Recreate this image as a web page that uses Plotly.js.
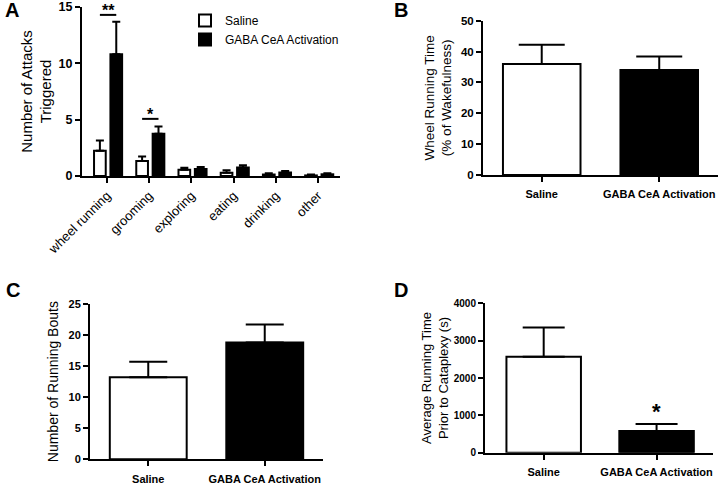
<!DOCTYPE html>
<html><head><meta charset="utf-8">
<script src="https://cdn.plot.ly/plotly-3.0.1.min.js"></script>
<style>html,body{margin:0;padding:0;background:#fff}</style>
</head><body><div id="chart" style="width:720px;height:486px"></div>
<script>
// ---- data ----
const behaviors = ['wheel running', 'grooming', 'exploring', 'eating', 'drinking', 'other'];
const attacksSaline = [2.25, 1.32, 0.55, 0.28, 0.13, 0.05];
const attacksSalineSem = [0.9, 0.4, 0.18, 0.22, 0.12, 0.08];
const attacksGaba = [10.8, 3.75, 0.62, 0.75, 0.32, 0.15];
const attacksGabaSem = [2.9, 0.65, 0.18, 0.2, 0.12, 0.1];
const groups = ['Saline', 'GABA CeA Activation'];
const wheelTime = [36, 34];
const wheelTimeSem = [6.2, 4.4];
const runningBouts = [13.2, 18.8];
const runningBoutsSem = [2.5, 2.9];
const runTimePrior = [2570, 580];
const runTimePriorSem = [780, 190];
const sigA = [{cat: 0, label: '**', y: 14.3}, {cat: 1, label: '*', y: 5.07}];
const sigD = [{cat: 1, label: '*'}];

// ---- style ----
const FONT = 'Liberation Sans, Arial, sans-serif';
const barColors = ['#ffffff', '#000000'];
const salOffset = -0.305, gabaOffset = 0.083, barW = 0.277;

function errBar(arr, w) {
  return {type: 'data', symmetric: false, array: arr, arrayminus: arr.map(() => 0),
          color: '#000', thickness: 2, width: w};
}

const traces = [
  {type: 'bar', name: 'Saline', x: behaviors, y: attacksSaline, xaxis: 'x', yaxis: 'y',
   offset: salOffset, width: barW,
   marker: {color: barColors[0], line: {color: '#000', width: 2}},
   error_y: errBar(attacksSalineSem, 4)},
  {type: 'bar', name: 'GABA CeA Activation', x: behaviors, y: attacksGaba, xaxis: 'x', yaxis: 'y',
   offset: gabaOffset, width: barW,
   marker: {color: barColors[1], line: {color: '#000', width: 2}},
   error_y: errBar(attacksGabaSem, 4)},
  {type: 'bar', x: groups, y: wheelTime, xaxis: 'x2', yaxis: 'y2', showlegend: false,
   marker: {color: barColors, line: {color: '#000', width: 2}},
   error_y: errBar(wheelTimeSem, 23)},
  {type: 'bar', x: groups, y: runningBouts, xaxis: 'x3', yaxis: 'y3', showlegend: false,
   marker: {color: barColors, line: {color: '#000', width: 2}},
   error_y: errBar(runningBoutsSem, 19)},
  {type: 'bar', x: groups, y: runTimePrior, xaxis: 'x4', yaxis: 'y4', showlegend: false,
   marker: {color: barColors, line: {color: '#000', width: 2}},
   error_y: errBar(runTimePriorSem, 21)}
];

function xAx(domain, range, fontSize, bold, angle, anchor) {
  const ax = {domain: domain, range: range, type: 'category', anchor: anchor, automargin: false,
    showline: true, linewidth: 2, linecolor: '#000',
    ticks: 'outside', ticklen: 5, tickwidth: 2, tickcolor: '#000', showgrid: false, zeroline: false,
    tickangle: angle,
    tickfont: {family: FONT, size: fontSize, color: '#000', weight: bold ? 'bold' : 'normal'}};
  if (bold) ax.ticklabelstandoff = 3;
  return ax;
}
function yAx(domain, range, dtick, fontSize, title, titleSize, standoff, anchor) {
  return {domain: domain, range: range, dtick: dtick, anchor: anchor, automargin: false,
    showline: true, linewidth: 2, linecolor: '#000',
    ticks: 'outside', ticklen: 5, tickwidth: 2, tickcolor: '#000', showgrid: false, zeroline: false,
    tickfont: {family: FONT, size: fontSize, color: '#000', weight: 'bold'},
    title: {text: title, font: {family: FONT, size: titleSize, color: '#000'}, standoff: standoff}};
}

const shapes = [];
const annotations = [];
sigA.forEach(s => {
  const x0 = s.cat + salOffset + barW / 2, x1 = s.cat + gabaOffset + barW / 2;
  shapes.push({type: 'line', xref: 'x', yref: 'y', x0: x0, x1: x1, y0: s.y, y1: s.y,
               line: {color: '#000', width: 2}});
  annotations.push({xref: 'x', yref: 'y', x: (x0 + x1) / 2, y: s.y, text: s.label, showarrow: false,
                    yanchor: 'bottom', yshift: -6, font: {family: FONT, size: 16, color: '#000', weight: 'bold'}});
});
sigD.forEach(s => {
  annotations.push({xref: 'x4', yref: 'y4', x: s.cat, y: runTimePrior[s.cat] + runTimePriorSem[s.cat],
                    text: s.label, showarrow: false, yanchor: 'bottom', yshift: -2,
                    font: {family: FONT, size: 22, color: '#000', weight: 'bold'}});
});
[['A', 3, 10], ['B', 392, 10], ['C', 4, 290], ['D', 392, 290]].forEach(p => {
  annotations.push({xref: 'paper', yref: 'paper', x: p[1] / 720, y: 1 - p[2] / 486, text: p[0],
                    showarrow: false, xanchor: 'left', yanchor: 'middle',
                    font: {family: FONT, size: 20, color: '#000', weight: 'bold'}});
});

const layout = {
  width: 720, height: 486, margin: {l: 0, r: 0, t: 0, b: 0},
  paper_bgcolor: '#fff', plot_bgcolor: 'rgba(0,0,0,0)',
  barmode: 'group', bargap: 0.34, bargroupgap: 0,
  showlegend: true,
  legend: {x: 185 / 720, y: 1 - 6 / 486, xanchor: 'left', yanchor: 'top', bgcolor: 'rgba(0,0,0,0)',
           font: {family: FONT, size: 12, color: '#000'}, tracegroupgap: 0},
  xaxis: xAx([0.1139, 0.4722], [-0.59, 5.52], 13, false, -45, 'y'),
  yaxis: yAx([0.6379, 0.9856], [0, 15], 5, 12.5, 'Number of Attacks<br>Triggered', 15, 3, 'x'),
  xaxis2: xAx([0.6708, 0.9972], [-0.5, 1.5], 11, true, 0, 'y2'),
  yaxis2: yAx([0.6399, 0.9574], [0, 50], 10, 11.5, 'Wheel Running Time<br>(% of Wakefulness)', 13.5, 6, 'x2'),
  xaxis3: xAx([0.125, 0.4486], [-0.5, 1.5], 11, true, 0, 'y3'),
  yaxis3: yAx([0.0549, 0.3745], [0, 25], 5, 11, 'Number of Running Bouts', 14, 7, 'x3'),
  xaxis4: xAx([0.6736, 0.9903], [-0.52, 1.5], 11, true, 0, 'y4'),
  yaxis4: yAx([0.0685, 0.3759], [0, 4000], 1000, 10, 'Average Running Time<br>Prior to Cataplexy (s)', 13, 2, 'x4'),
  shapes: shapes, annotations: annotations
};

Plotly.newPlot('chart', traces, layout, {displayModeBar: false, staticPlot: true});
</script></body></html>
